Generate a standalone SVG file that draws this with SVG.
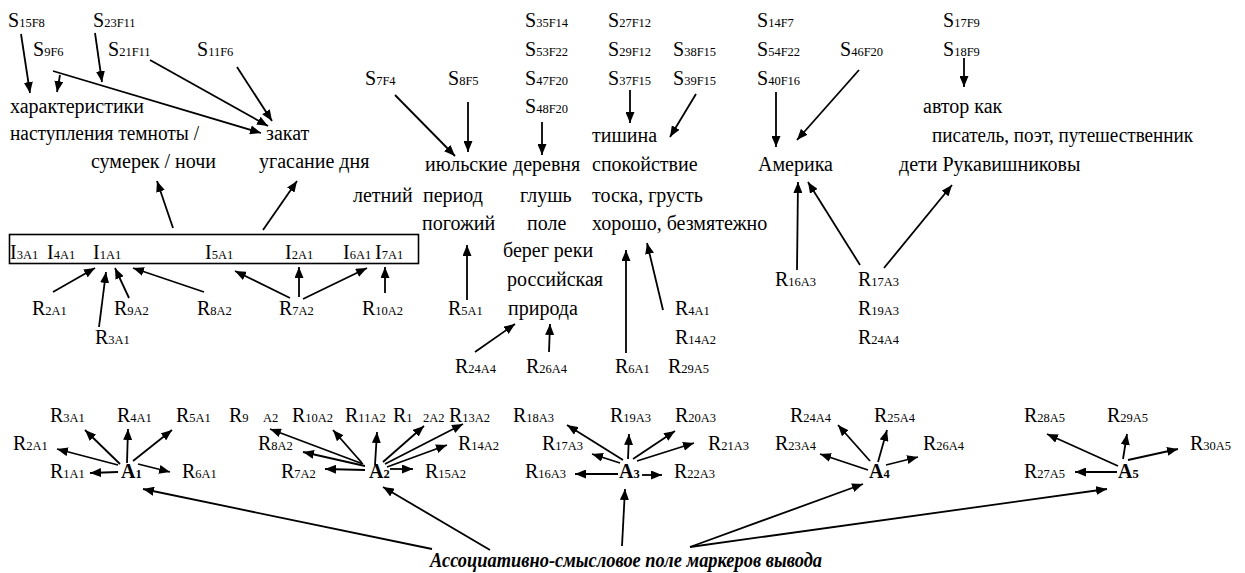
<svg xmlns="http://www.w3.org/2000/svg" width="1245" height="573" viewBox="0 0 1245 573">
<style>
text{font-family:"Liberation Serif","Times New Roman",serif;font-size:20px;fill:#000}
.s{font-size:12.5px}
.b{font-weight:bold}
.it{font-style:italic;font-weight:bold}
#connectors line{stroke:#000;stroke-width:1.8;marker-end:url(#ah)}
.box{fill:none;stroke:#000;stroke-width:1.6}
</style>
<defs>
<marker id="ah" markerUnits="userSpaceOnUse" markerWidth="11" markerHeight="9" refX="11" refY="4.5" orient="auto">
<path d="M0,0 L11,4.5 L0,9 z" fill="#000"/>
</marker>
</defs>
<rect width="1245" height="573" fill="#fff"/>

<g id="n-s15f8"><text x="8" y="27">S<tspan class="s">15F8</tspan></text></g>
<g id="n-s23f11"><text x="93" y="27">S<tspan class="s">23F11</tspan></text></g>
<g id="n-s9f6"><text x="33" y="56">S<tspan class="s">9F6</tspan></text></g>
<g id="n-s21f11"><text x="108" y="56">S<tspan class="s">21F11</tspan></text></g>
<g id="n-s11f6"><text x="197" y="56">S<tspan class="s">11F6</tspan></text></g>
<g id="n-dark"><text x="10" y="113">характеристики</text><text x="10" y="140" textLength="189" lengthAdjust="spacingAndGlyphs">наступления темноты /</text><text x="91" y="168">сумерек / ночи</text></g>
<g id="n-sunset"><text x="266" y="140">закат</text><text x="259" y="168">угасание дня</text></g>

<g id="n-s7f4"><text x="365" y="85">S<tspan class="s">7F4</tspan></text></g>
<g id="n-s8f5"><text x="448" y="85">S<tspan class="s">8F5</tspan></text></g>
<g id="n-s35"><text x="525" y="27">S<tspan class="s">35F14</tspan></text><text x="525" y="56">S<tspan class="s">53F22</tspan></text><text x="525" y="85">S<tspan class="s">47F20</tspan></text><text x="525" y="113">S<tspan class="s">48F20</tspan></text></g>
<g id="n-july"><text x="425" y="171">июльские</text><text x="423" y="202">период</text><text x="422" y="230">погожий</text></g>
<g id="n-summer"><text x="353" y="202">летний</text></g>
<g id="n-village"><text x="513" y="171">деревня</text><text x="520" y="202">глушь</text><text x="527" y="230">поле</text><text x="503" y="257">берег реки</text><text x="507" y="286">российская</text><text x="508" y="315">природа</text></g>

<g id="n-s27"><text x="608" y="27">S<tspan class="s">27F12</tspan></text><text x="608" y="56">S<tspan class="s">29F12</tspan></text><text x="608" y="85">S<tspan class="s">37F15</tspan></text></g>
<g id="n-s38"><text x="673" y="56">S<tspan class="s">38F15</tspan></text><text x="673" y="85">S<tspan class="s">39F15</tspan></text></g>
<g id="n-silence"><text x="592" y="142">тишина</text><text x="592" y="171">спокойствие</text><text x="592" y="202">тоска, грусть</text><text x="592" y="230">хорошо, безмятежно</text></g>
<g id="n-s14"><text x="757" y="27">S<tspan class="s">14F7</tspan></text><text x="757" y="56">S<tspan class="s">54F22</tspan></text><text x="757" y="85">S<tspan class="s">40F16</tspan></text></g>
<g id="n-s46"><text x="840" y="56">S<tspan class="s">46F20</tspan></text></g>
<g id="n-america"><text x="758" y="171">Америка</text></g>
<g id="n-s17"><text x="943" y="27">S<tspan class="s">17F9</tspan></text><text x="943" y="56">S<tspan class="s">18F9</tspan></text></g>
<g id="n-author"><text x="923" y="113">автор как</text><text x="932" y="142" textLength="261" lengthAdjust="spacingAndGlyphs">писатель, поэт, путешественник</text><text x="899" y="171">дети Рукавишниковы</text></g>

<g id="n-r5a1"><text x="448" y="315">R<tspan class="s">5A1</tspan></text></g>
<g id="n-r24a4m"><text x="455" y="373">R<tspan class="s">24A4</tspan></text></g>
<g id="n-r26a4m"><text x="526" y="373">R<tspan class="s">26A4</tspan></text></g>
<g id="n-r6a1m"><text x="615" y="373">R<tspan class="s">6A1</tspan></text></g>
<g id="n-r4a1m"><text x="675" y="315">R<tspan class="s">4A1</tspan></text><text x="675" y="344">R<tspan class="s">14A2</tspan></text><text x="668" y="373">R<tspan class="s">29A5</tspan></text></g>
<g id="n-r16a3m"><text x="775" y="286">R<tspan class="s">16A3</tspan></text></g>
<g id="n-r17a3m"><text x="858" y="286">R<tspan class="s">17A3</tspan></text><text x="858" y="315">R<tspan class="s">19A3</tspan></text><text x="858" y="344">R<tspan class="s">24A4</tspan></text></g>

<g id="n-box">
<rect class="box" x="9.5" y="234.5" width="409" height="29"/>
<text x="10" y="259">I<tspan class="s">3A1</tspan></text>
<text x="47" y="259">I<tspan class="s">4A1</tspan></text>
<text x="93" y="259">I<tspan class="s">1A1</tspan></text>
<text x="205" y="259">I<tspan class="s">5A1</tspan></text>
<text x="285" y="259">I<tspan class="s">2A1</tspan></text>
<text x="343" y="259">I<tspan class="s">6A1</tspan></text>
<text x="375" y="259">I<tspan class="s">7A1</tspan></text>
</g>
<g id="n-r2a1b"><text x="32" y="315">R<tspan class="s">2A1</tspan></text></g>
<g id="n-r3a1b"><text x="95" y="344">R<tspan class="s">3A1</tspan></text></g>
<g id="n-r9a2b"><text x="114" y="315">R<tspan class="s">9A2</tspan></text></g>
<g id="n-r8a2b"><text x="197" y="315">R<tspan class="s">8A2</tspan></text></g>
<g id="n-r7a2b"><text x="279" y="315">R<tspan class="s">7A2</tspan></text></g>
<g id="n-r10a2b"><text x="362" y="315">R<tspan class="s">10A2</tspan></text></g>

<g id="n-a1">
<text class="b" x="121" y="478">A<tspan class="s">1</tspan></text>
<text x="50" y="422">R<tspan class="s">3A1</tspan></text>
<text x="117" y="422">R<tspan class="s">4A1</tspan></text>
<text x="176" y="422">R<tspan class="s">5A1</tspan></text>
<text x="13" y="450">R<tspan class="s">2A1</tspan></text>
<text x="50" y="478">R<tspan class="s">1A1</tspan></text>
<text x="182" y="478">R<tspan class="s">6A1</tspan></text>
</g>
<g id="n-a2">
<text class="b" x="369" y="478">A<tspan class="s">2</tspan></text>
<text x="229" y="422">R<tspan class="s">9</tspan></text><text class="s" x="263" y="422">A2</text>
<text x="292" y="422">R<tspan class="s">10A2</tspan></text>
<text x="345" y="422">R<tspan class="s">11A2</tspan></text>
<text x="393" y="422">R<tspan class="s">1</tspan></text><text class="s" x="423" y="422">2A2</text>
<text x="449" y="422">R<tspan class="s">13A2</tspan></text>
<text x="258" y="450">R<tspan class="s">8A2</tspan></text>
<text x="458" y="450">R<tspan class="s">14A2</tspan></text>
<text x="281" y="478">R<tspan class="s">7A2</tspan></text>
<text x="425" y="478">R<tspan class="s">15A2</tspan></text>
</g>
<g id="n-a3">
<text class="b" x="619" y="478">A<tspan class="s">3</tspan></text>
<text x="513" y="422">R<tspan class="s">18A3</tspan></text>
<text x="610" y="422">R<tspan class="s">19A3</tspan></text>
<text x="675" y="422">R<tspan class="s">20A3</tspan></text>
<text x="542" y="450">R<tspan class="s">17A3</tspan></text>
<text x="708" y="450">R<tspan class="s">21A3</tspan></text>
<text x="525" y="478">R<tspan class="s">16A3</tspan></text>
<text x="674" y="478">R<tspan class="s">22A3</tspan></text>
</g>
<g id="n-a4">
<text class="b" x="869" y="478">A<tspan class="s">4</tspan></text>
<text x="790" y="422">R<tspan class="s">24A4</tspan></text>
<text x="874" y="422">R<tspan class="s">25A4</tspan></text>
<text x="775" y="450">R<tspan class="s">23A4</tspan></text>
<text x="923" y="450">R<tspan class="s">26A4</tspan></text>
</g>
<g id="n-a5">
<text class="b" x="1118" y="478">A<tspan class="s">5</tspan></text>
<text x="1024" y="422">R<tspan class="s">28A5</tspan></text>
<text x="1107" y="422">R<tspan class="s">29A5</tspan></text>
<text x="1190" y="450">R<tspan class="s">30A5</tspan></text>
<text x="1024" y="478">R<tspan class="s">27A5</tspan></text>
</g>
<g id="n-field"><text class="it" x="430" y="567" textLength="392" lengthAdjust="spacingAndGlyphs">Ассоциативно-смысловое поле маркеров вывода</text></g>

<g id="connectors">
<line x1="21" y1="34" x2="30" y2="93"/>
<line x1="60" y1="75" x2="57" y2="92"/>
<line x1="95" y1="33" x2="102" y2="82"/>
<line x1="53" y1="71" x2="261" y2="133"/>
<line x1="150" y1="60" x2="268" y2="126"/>
<line x1="237" y1="67" x2="272" y2="121"/>
<line x1="173" y1="228" x2="157" y2="181"/>
<line x1="263" y1="230" x2="297" y2="181"/>
<line x1="395" y1="95" x2="455" y2="156"/>
<line x1="468" y1="102" x2="468" y2="152"/>
<line x1="542" y1="122" x2="542" y2="155"/>
<line x1="630" y1="90" x2="630" y2="123"/>
<line x1="696" y1="94" x2="670" y2="137"/>
<line x1="776" y1="92" x2="776" y2="147"/>
<line x1="859" y1="70" x2="797" y2="140"/>
<line x1="964" y1="58" x2="964" y2="87"/>
<line x1="467" y1="300" x2="467" y2="245"/>
<line x1="475" y1="352" x2="515" y2="324"/>
<line x1="549" y1="352" x2="550" y2="324"/>
<line x1="626" y1="353" x2="626" y2="250"/>
<line x1="663" y1="310" x2="647" y2="243"/>
<line x1="797" y1="270" x2="798" y2="182"/>
<line x1="860" y1="265" x2="808" y2="182"/>
<line x1="884" y1="268" x2="952" y2="185"/>
<line x1="53" y1="292" x2="95" y2="268"/>
<line x1="99" y1="327" x2="106" y2="272"/>
<line x1="129" y1="298" x2="115" y2="268"/>
<line x1="204" y1="292" x2="133" y2="268"/>
<line x1="290" y1="298" x2="235" y2="271"/>
<line x1="299" y1="297" x2="299" y2="267"/>
<line x1="303" y1="299" x2="367" y2="268"/>
<line x1="385" y1="293" x2="385" y2="267"/>
<g transform="translate(0,-3)">
<line x1="118" y1="475" x2="90" y2="476"/>
<line x1="118" y1="468" x2="57" y2="452"/>
<line x1="120" y1="467" x2="85" y2="433"/>
<line x1="127" y1="466" x2="128" y2="432"/>
<line x1="133" y1="464" x2="172" y2="433"/>
<line x1="138" y1="467" x2="170" y2="475"/>
<line x1="365" y1="473" x2="325" y2="472"/>
<line x1="365" y1="469" x2="303" y2="455"/>
<line x1="363" y1="467" x2="270" y2="432"/>
<line x1="362" y1="466" x2="333" y2="433"/>
<line x1="375" y1="468" x2="377" y2="435"/>
<line x1="383" y1="465" x2="424" y2="429"/>
<line x1="385" y1="467" x2="463" y2="427"/>
<line x1="387" y1="470" x2="447" y2="448"/>
<line x1="390" y1="472" x2="413" y2="472"/>
<line x1="618" y1="477" x2="575" y2="477"/>
<line x1="620" y1="466" x2="592" y2="457"/>
<line x1="623" y1="463" x2="567" y2="428"/>
<line x1="628" y1="462" x2="629" y2="437"/>
<line x1="633" y1="462" x2="675" y2="434"/>
<line x1="637" y1="464" x2="694" y2="446"/>
<line x1="642" y1="478" x2="662" y2="478"/>
<line x1="868" y1="473" x2="820" y2="457"/>
<line x1="870" y1="464" x2="838" y2="428"/>
<line x1="878" y1="465" x2="887" y2="433"/>
<line x1="886" y1="468" x2="918" y2="460"/>
<line x1="1117" y1="475" x2="1075" y2="475"/>
<line x1="1118" y1="469" x2="1047" y2="437"/>
<line x1="1123" y1="462" x2="1127" y2="437"/>
<line x1="1128" y1="463" x2="1178" y2="452"/>
</g>
<line x1="432" y1="549" x2="143" y2="489"/>
<line x1="490" y1="550" x2="383" y2="487"/>
<line x1="622" y1="546" x2="625" y2="489"/>
<line x1="690" y1="547" x2="863" y2="484"/>
<line x1="690" y1="547" x2="1107" y2="489"/>
</g>
</svg>
